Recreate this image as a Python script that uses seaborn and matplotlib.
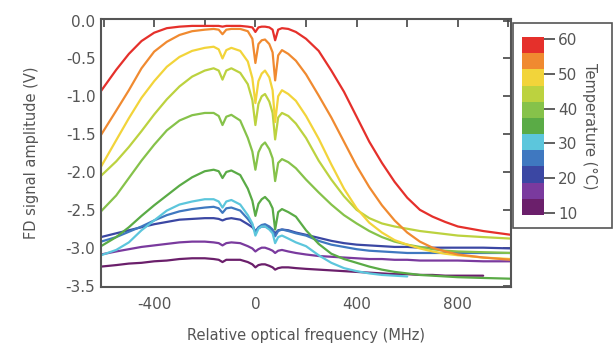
import numpy as np
import pandas as pd
import matplotlib
matplotlib.use("Agg")
import matplotlib.pyplot as plt
import seaborn as sns
from matplotlib.colors import ListedColormap, Normalize
from matplotlib.cm import ScalarMappable
from matplotlib.patches import Rectangle
from matplotlib.ticker import MultipleLocator, FormatStrFormatter

nan = np.nan

# Relative optical frequency (MHz)
freq = [-610, -550, -500, -450, -400, -350, -300, -250, -200,
        -165, -145, -130, -115, -95,
        -60, -30, -12, 0,
        12, 25, 38, 55, 68, 78, 90, 105,
        130, 160, 200, 250, 300, 350, 400, 450, 500, 550, 600,
        650, 700, 750, 800, 900, 1010]

temps = [10, 15, 20, 25, 30, 35, 40, 45, 50, 55, 60]

amp_60 = [-0.93, -0.65, -0.44, -0.27, -0.16, -0.10, -0.08, -0.07, -0.07,
          -0.07, -0.07, -0.08, -0.07, -0.07,
          -0.07, -0.08, -0.09, -0.15,
          -0.09, -0.08, -0.08, -0.09, -0.12, -0.26, -0.12, -0.10,
          -0.11, -0.15, -0.24, -0.40, -0.66, -0.94, -1.27, -1.60, -1.88, -2.13, -2.34,
          -2.50, -2.59, -2.66, -2.72, -2.78, -2.83]
amp_55 = [-1.51, -1.19, -0.92, -0.63, -0.41, -0.28, -0.19, -0.14, -0.12,
          -0.11, -0.12, -0.18, -0.12, -0.11,
          -0.11, -0.14, -0.24, -0.56,
          -0.31, -0.26, -0.25, -0.31, -0.42, -0.79, -0.46, -0.39,
          -0.44, -0.53, -0.71, -0.99, -1.28, -1.60, -1.92, -2.20, -2.44, -2.64, -2.80,
          -2.92, -3.00, -3.05, -3.09, -3.13, -3.16]
amp_50 = [-1.93, -1.58, -1.29, -1.02, -0.80, -0.61, -0.48, -0.40, -0.36,
          -0.345, -0.38, -0.50, -0.39, -0.36,
          -0.40, -0.54, -0.76, -1.09,
          -0.80, -0.70, -0.66, -0.75, -0.92, -1.34, -1.00, -0.92,
          -0.97, -1.06, -1.26, -1.56, -1.90, -2.22, -2.48, -2.67, -2.80, -2.90, -2.96,
          -3.01, -3.05, -3.08, -3.10, -3.13, -3.15]
amp_45 = [-2.05, -1.86, -1.67, -1.46, -1.24, -1.04, -0.87, -0.74, -0.66,
          -0.63, -0.66, -0.78, -0.66, -0.63,
          -0.69, -0.84, -1.05, -1.38,
          -1.10, -1.00, -0.97, -1.07, -1.22, -1.57, -1.28, -1.22,
          -1.26, -1.36, -1.55, -1.85, -2.10, -2.32, -2.50, -2.61, -2.68, -2.72, -2.75,
          -2.78, -2.80, -2.82, -2.84, -2.86, -2.88]
amp_40 = [-2.52, -2.31, -2.08, -1.85, -1.64, -1.45, -1.32, -1.25, -1.22,
          -1.22, -1.26, -1.38, -1.27, -1.245,
          -1.32, -1.55, -1.73, -1.97,
          -1.74, -1.65, -1.61, -1.70, -1.82, -2.12, -1.88, -1.83,
          -1.87, -1.95, -2.10, -2.27, -2.43, -2.57, -2.68, -2.78, -2.86, -2.92, -2.96,
          -2.99, -3.02, -3.04, -3.05, -3.06, -3.07]
amp_35 = [-2.98, -2.86, -2.73, -2.58, -2.44, -2.31, -2.18, -2.07, -1.99,
          -1.97, -1.99, -2.08, -2.00, -1.98,
          -2.04, -2.22, -2.38, -2.58,
          -2.42, -2.36, -2.33, -2.39, -2.48, -2.76, -2.53, -2.49,
          -2.53, -2.59, -2.77, -2.95, -3.08, -3.15, -3.20, -3.25, -3.29, -3.32, -3.34,
          -3.36, -3.37, -3.38, -3.39, -3.40, -3.41]
amp_30 = [-3.10, -3.03, -2.93, -2.77, -2.64, -2.51, -2.43, -2.39, -2.36,
          -2.36, -2.39, -2.47, -2.39, -2.37,
          -2.43, -2.57, -2.68, -2.84,
          -2.75, -2.72, -2.72, -2.76, -2.81, -2.94, -2.86, -2.84,
          -2.88, -2.93, -2.98, -3.10, -3.20, -3.27, -3.31, -3.34, -3.36, -3.37, -3.38,
          nan, nan, nan, nan, nan, nan]
amp_25 = [-2.92, -2.86, -2.79, -2.72, -2.64, -2.57, -2.52, -2.49, -2.47,
          -2.46, -2.48, -2.54, -2.48, -2.47,
          -2.51, -2.62, -2.70, -2.79,
          -2.73, -2.70, -2.69, -2.72, -2.76, -2.85, -2.78, -2.76,
          -2.78, -2.81, -2.84, -2.91, -2.96, -2.99, -3.02, -3.04, -3.05, -3.06, -3.07,
          -3.07, -3.07, -3.07, -3.07, -3.07, -3.07]
amp_20 = [-2.86, -2.81, -2.77, -2.73, -2.69, -2.66, -2.63, -2.62, -2.61,
          -2.61, -2.62, -2.64, -2.62, -2.61,
          -2.63, -2.69, -2.73, -2.78,
          -2.74, -2.72, -2.72, -2.74, -2.77, -2.81, -2.77, -2.76,
          -2.77, -2.80, -2.83, -2.87, -2.91, -2.94, -2.96, -2.97, -2.98, -2.99, -2.99,
          -3.00, -3.00, -3.00, -3.00, -3.00, -3.01]
amp_15 = [-3.09, -3.05, -3.02, -2.99, -2.97, -2.95, -2.93, -2.92, -2.92,
          -2.93, -2.94, -2.97, -2.94, -2.93,
          -2.94, -2.98, -3.01, -3.05,
          -3.02, -3.00, -3.00, -3.02, -3.04, -3.07, -3.04, -3.03,
          -3.05, -3.07, -3.09, -3.11, -3.12, -3.13, -3.14, -3.15, -3.15, -3.16, -3.16,
          -3.17, -3.17, -3.17, -3.17, -3.18, -3.18]
amp_10 = [-3.25, -3.23, -3.21, -3.20, -3.18, -3.17, -3.15, -3.14, -3.14,
          -3.15, -3.16, -3.19, -3.16, -3.16,
          -3.16, -3.19, -3.22, -3.26,
          -3.23, -3.22, -3.22, -3.24, -3.26, -3.29, -3.27, -3.26,
          -3.26, -3.27, -3.28, -3.29, -3.30, -3.31, -3.32, -3.33, -3.34, -3.35, -3.35,
          -3.36, -3.36, -3.37, -3.37, -3.37, nan]

series = [amp_10, amp_15, amp_20, amp_25, amp_30, amp_35,
          amp_40, amp_45, amp_50, amp_55, amp_60]

colors = ["#6b1f6b", "#7a3a9e", "#3b47a3", "#3f78c0", "#5cc6dc", "#5aab46",
          "#86c24a", "#bcd23f", "#f2d43a", "#f08a30", "#e5302b"]

rows = []
for t, arr in zip(temps, series):
    for f, a in zip(freq, arr):
        if not np.isnan(a):
            rows.append({"freq": f, "amp": a, "temp": t})
df = pd.DataFrame(rows)

sns.set_style("white")
plt.rcParams['font.family'] = ['DejaVu Sans']
plt.rcParams['axes.unicode_minus'] = False

fig = plt.figure(figsize=(6.13, 3.45), dpi=100)
ax = fig.add_axes([0.1648, 0.168, 0.6688, 0.778])

sns.lineplot(data=df, x="freq", y="amp", hue="temp",
             palette=dict(zip(temps, colors)), estimator=None,
             legend=False, linewidth=1.6, ax=ax)

ax.set_xlim(-610, 1010)
ax.set_ylim(-3.52, 0.026)
ax.xaxis.set_major_locator(MultipleLocator(400))
ax.xaxis.set_minor_locator(MultipleLocator(200))
ax.yaxis.set_major_locator(MultipleLocator(0.5))
ax.yaxis.set_major_formatter(FormatStrFormatter('%.1f'))

tick_col = "#444444"
lab_col = "#555555"
ax.tick_params(which="both", direction="in", top=True, right=True,
               length=6, width=1.2, color=tick_col)
ax.tick_params(which="major", labelsize=11, labelcolor=lab_col)
ax.tick_params(axis="x", which="major", pad=7)
ax.tick_params(axis="y", which="major", pad=4)
for sp in ax.spines.values():
    sp.set_linewidth(1.5)
    sp.set_color("#555555")

ax.set_xlabel("Relative optical frequency (MHz)", fontsize=10.5,
              color=lab_col, labelpad=12)
ax.set_ylabel("FD signal amplitude (V)", fontsize=10.5,
              color=lab_col, labelpad=19)

# colorbar
cmap = ListedColormap(colors)
norm = Normalize(vmin=9.5, vmax=60.5)
cax = fig.add_axes([0.8515, 0.3768, 0.0359, 0.516])
cb = fig.colorbar(ScalarMappable(norm=norm, cmap=cmap), cax=cax,
                  ticks=[10, 20, 30, 40, 50, 60])
cb.outline.set_linewidth(0)
cax.tick_params(length=8, width=1.2, color=tick_col, labelsize=11,
                labelcolor=lab_col, pad=2)
cb.set_label("Temperature (°C)", rotation=270, labelpad=14,
             fontsize=10.5, color=lab_col)

fig.patches.append(Rectangle((0.8369, 0.339), 0.1610, 0.594,
                             transform=fig.transFigure, fill=False,
                             ec="#555555", lw=1.2))

fig.savefig("out.png", dpi=100)
